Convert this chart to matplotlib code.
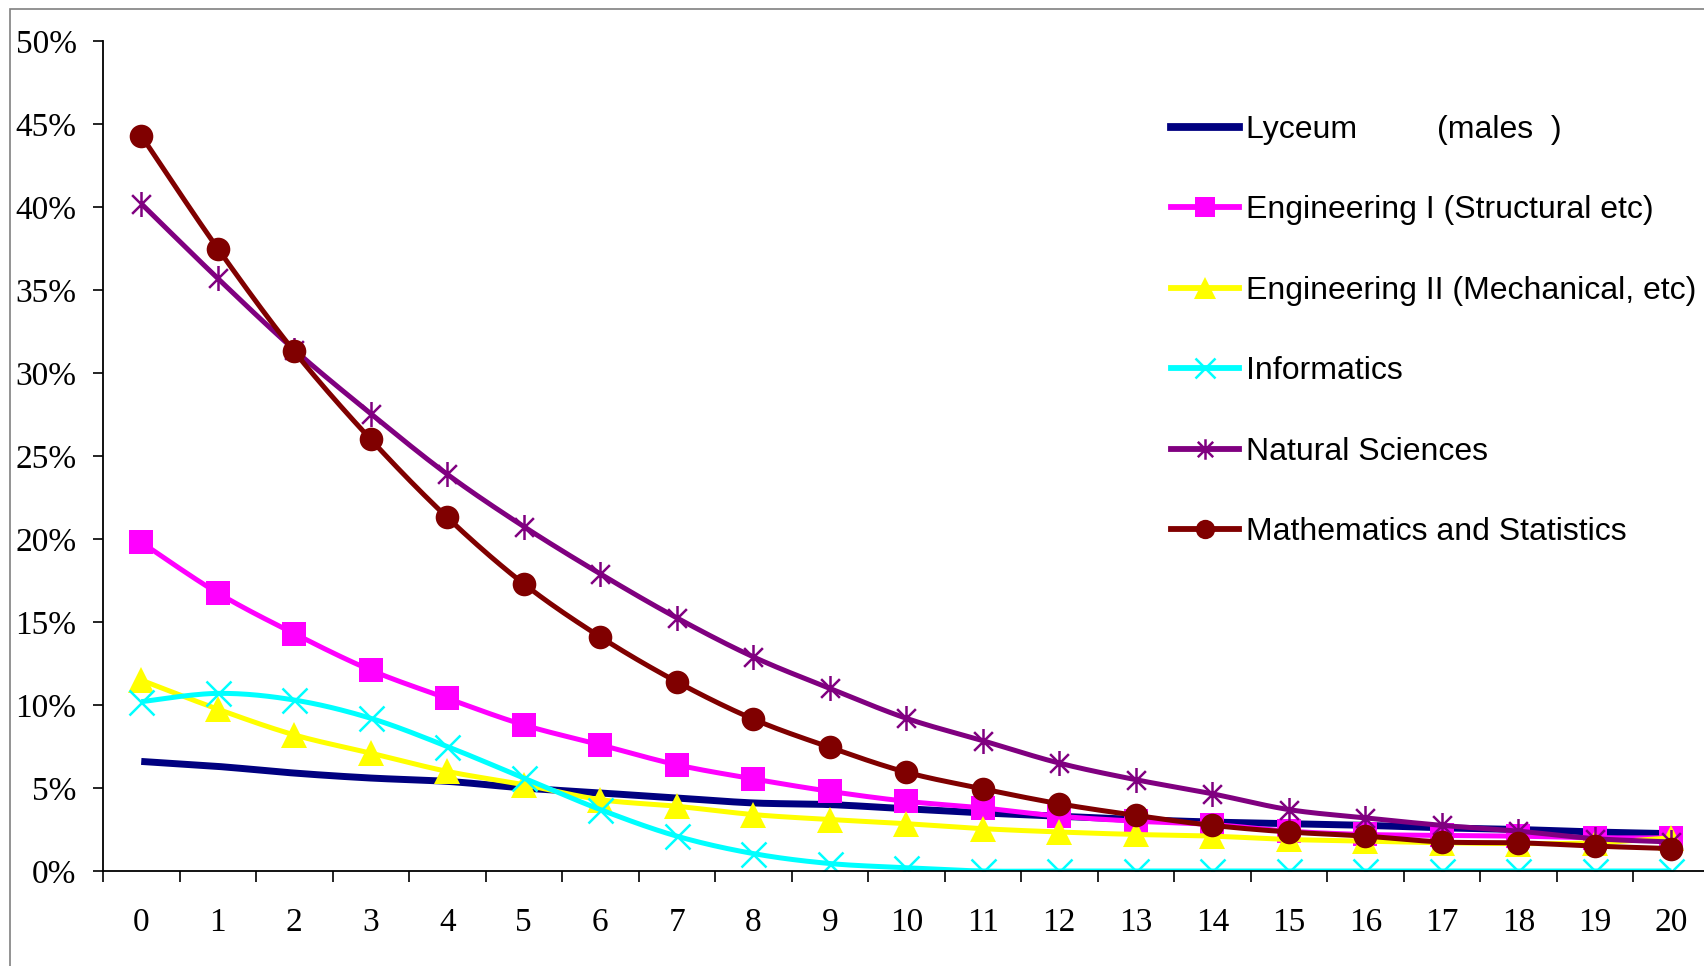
import numpy as np
import matplotlib
matplotlib.use('Agg')
import matplotlib.pyplot as plt
from matplotlib.path import Path
from matplotlib.patches import Rectangle
from matplotlib.ticker import FuncFormatter

# data (percent)
years = list(range(21))
lyceum = [6.6, 6.3, 5.9, 5.6, 5.4, 5.0, 4.7, 4.4, 4.1, 4.0, 3.75,
          3.5, 3.3, 3.1, 2.95, 2.85, 2.75, 2.6, 2.5, 2.35, 2.25]
eng1 = [19.8, 16.75, 14.3, 12.1, 10.4, 8.8, 7.6, 6.4, 5.55, 4.8, 4.2,
        3.8, 3.3, 3.0, 2.8, 2.4, 2.2, 2.15, 2.1, 2.0, 2.0]
eng2 = [11.5, 9.75, 8.2, 7.1, 6.0, 5.2, 4.3, 3.9, 3.4, 3.1, 2.85,
        2.55, 2.35, 2.2, 2.1, 1.9, 1.8, 1.7, 1.65, 1.7, 2.0]
informatics = [10.2, 10.7, 10.3, 9.2, 7.5, 5.6, 3.7, 2.1, 1.05, 0.45, 0.2,
               0, 0, 0, 0, 0, 0, 0, 0, 0, 0]
natural = [40.2, 35.7, 31.4, 27.55, 23.9, 20.75, 17.9, 15.25, 12.9, 11.0, 9.2,
           7.85, 6.5, 5.5, 4.65, 3.7, 3.2, 2.75, 2.4, 1.95, 1.75]
maths = [44.3, 37.5, 31.3, 26.0, 21.3, 17.3, 14.1, 11.4, 9.15, 7.45, 5.95,
         4.95, 4.05, 3.35, 2.75, 2.35, 2.1, 1.75, 1.7, 1.5, 1.35]

labels = ['Lyceum         (males  )',
          'Engineering I (Structural etc)',
          'Engineering II (Mechanical, etc)',
          'Informatics',
          'Natural Sciences',
          'Mathematics and Statistics']


# smooth line like excel (catmull-rom as bezier)
def smooth(x, y, n=24):
    p = np.column_stack([x, y]).astype(float)
    p = np.vstack([p[0], p, p[-1]])
    out = []
    t = np.linspace(0, 1, n)[:, None]
    for i in range(1, len(p) - 2):
        p0, p1, p2, p3 = p[i - 1], p[i], p[i + 1], p[i + 2]
        c1 = p1 + (p2 - p0) / 6
        c2 = p2 - (p3 - p1) / 6
        seg = ((1 - t) ** 3) * p1 + 3 * ((1 - t) ** 2) * t * c1 + 3 * (1 - t) * t ** 2 * c2 + t ** 3 * p2
        out.append(seg if i == 1 else seg[1:])
    out = np.vstack(out)
    return out[:, 0], out[:, 1]


# excel style asterisk: vertical bar + X
star = Path([(0, -1), (0, 1), (-0.75, -0.75), (0.75, 0.75), (-0.75, 0.75), (0.75, -0.75)],
            [Path.MOVETO, Path.LINETO, Path.MOVETO, Path.LINETO, Path.MOVETO, Path.LINETO])

# values, colour, marker, line width, marker size, marker edge width
series = [
    (lyceum, '#000080', None, 5.0, 0, 0),
    (eng1, '#FF00FF', 's', 3.6, 17, 0),
    (eng2, '#FFFF00', '^', 3.6, 19, 0),
    (informatics, '#00FFFF', 'x', 3.6, 18, 1.8),
    (natural, '#800080', star, 3.6, 18, 1.8),
    (maths, '#800000', 'o', 3.6, 17, 0),
]

fig = plt.figure(figsize=(17.04, 9.66), dpi=100)
ax = fig.add_axes([103 / 1704, 95 / 966, 1606.6 / 1704, 830 / 966])

handles = []
for (vals, col, mk, lw, ms, mew), lab in zip(series, labels):
    sx, sy = smooth(years, vals)
    ax.plot(sx, sy, color=col, lw=lw, solid_capstyle='butt')
    if mk is not None:
        ax.plot(years, vals, ls='none', marker=mk, ms=ms, color=col,
                mfc=col, mec=col, mew=mew)
    h, = ax.plot([], [], color=col, lw=lw + 0.6, marker=mk, ms=ms * 0.82,
                 mfc=col, mec=col, mew=mew)
    handles.append(h)

ax.set_xlim(-0.5, 20.5)
ax.set_ylim(0, 50)
ax.set_yticks(np.arange(0, 51, 5))
ax.yaxis.set_major_formatter(FuncFormatter(lambda v, p: '%d%%' % v))
ax.set_xticks(years)
ax.set_xticks(np.arange(-0.5, 21, 1), minor=True)
ax.tick_params(axis='x', which='major', length=0, pad=26)
ax.tick_params(axis='x', which='minor', length=8, width=1.2, direction='out')
ax.tick_params(axis='y', length=7, width=1.2, pad=12)
for lab in ax.get_xticklabels() + ax.get_yticklabels():
    lab.set_family('Liberation Serif')
    lab.set_fontsize(24)

for s in ['top', 'right']:
    ax.spines[s].set_visible(False)
for s in ['left', 'bottom']:
    ax.spines[s].set_linewidth(1.3)
ax.patch.set_visible(False)

leg = fig.legend(handles, labels, loc='upper left',
                 bbox_to_anchor=(1171 / 1704, 1 - 115 / 966),
                 frameon=False, borderpad=0, borderaxespad=0,
                 handlelength=2.12, handletextpad=0.22, labelspacing=1.58,
                 prop={'family': 'Liberation Sans', 'size': 23})

# grey border of the chart area
fig.patches.append(Rectangle((10 / 1704, -0.1), 1.2, 1 - 9 / 966 + 0.1,
                             transform=fig.transFigure, fill=False,
                             edgecolor='#808080', lw=1.2))

fig.savefig('out.png', dpi=100)
